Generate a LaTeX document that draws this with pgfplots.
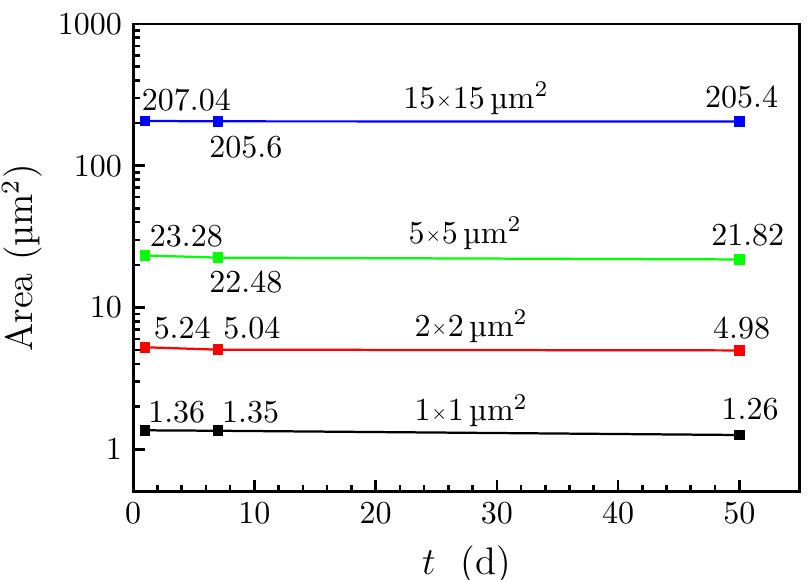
\documentclass[border=0pt]{standalone}
\usepackage{fontspec}
\usepackage{pgfplots}
\pgfplotsset{compat=1.18}
\newcommand{\smtimes}{\raisebox{0.9pt}{\tiny$\times$}}

\begin{document}
\begin{tikzpicture}
\useasboundingbox (-41.6pt,-27.5pt) rectangle (211.25pt,153.75pt);
\begin{axis}[
    at={(0,0)}, anchor=south west,
    scale only axis,
    width=208.4pt, height=146.25pt,
    ymode=log,
    xmin=0, xmax=55,
    ymin=0.5, ymax=1000,
    xtick={0,10,...,50},
    minor x tick num=4,
    ytick={1,10,100,1000},
    yticklabels={1,10,100,1000},
    tick pos=left,
    tick align=inside,
    major tick length=3.8pt,
    minor tick length=2.2pt,
    axis line style={line width=0.9pt},
    every tick/.style={line width=0.8pt, black},
    xlabel={\large $t$~ (d)},
    ylabel={\large Area (µm$^2$)},
    ylabel style={yshift=-2pt},
    clip=false,
    every axis plot/.append style={line width=0.7pt, mark=square*, mark size=1.3pt},
]
\addplot[blue, mark options={fill=blue}] coordinates {(1,207.04) (7,205.6) (50,205.4)};
\addplot[green, mark options={fill=green}] coordinates {(1,23.28) (7,22.48) (50,21.82)};
\addplot[red, mark options={fill=red}] coordinates {(1,5.24) (7,5.04) (50,4.98)};
\addplot[black, mark options={fill=black}] coordinates {(1,1.36) (7,1.35) (50,1.26)};

% value labels
\node at (axis cs:4.4,290) {207.04};
\node at (axis cs:9.3,135) {205.6};
\node at (axis cs:50.2,305) {205.4};
\node at (axis cs:28.3,300) {15\smtimes15\,µm$^2$};

\node at (axis cs:4.4,31.9) {23.28};
\node at (axis cs:9.3,15.1) {22.48};
\node at (axis cs:50.7,32.4) {21.82};
\node at (axis cs:27.4,33.4) {5\smtimes5\,µm$^2$};

\node at (axis cs:4.05,7.14) {5.24};
\node at (axis cs:9.8,7.14) {5.04};
\node at (axis cs:50.2,7.14) {4.98};
\node at (axis cs:27.9,7.38) {2\smtimes2\,µm$^2$};

\node at (axis cs:3.6,1.82) {1.36};
\node at (axis cs:9.7,1.82) {1.35};
\node at (axis cs:50.9,1.91) {1.26};
\node at (axis cs:27.9,1.86) {1\smtimes1\,µm$^2$};
\end{axis}
\end{tikzpicture}
\end{document}
